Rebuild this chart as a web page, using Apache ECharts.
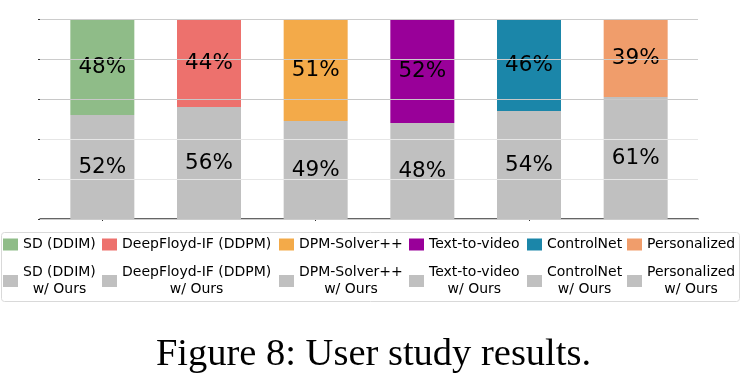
<!DOCTYPE html>
<html>
<head>
<meta charset="utf-8">
<script src="https://cdn.jsdelivr.net/npm/echarts@6/dist/echarts.min.js"></script>
<style>
  html, body { margin: 0; padding: 0; background: #fff; }
  #chart { width: 747px; height: 375px; }
</style>
</head>
<body>
<div id="chart"></div>
<script>
// data
var methods = ['SD (DDIM)', 'DeepFloyd-IF (DDPM)', 'DPM-Solver++', 'Text-to-video', 'ControlNet', 'Personalized'];
var baseValues = [48, 44, 51, 52, 46, 39];
var oursValues = [52, 56, 49, 48, 54, 61];
var baseColors = ['#8fbc88', '#ed716d', '#f3aa49', '#990099', '#1b86a9', '#f09d6b'];
var oursColor = '#c0c0c0';
var legendLeft = [3, 102, 279, 409, 527, 627];

var chart = echarts.init(document.getElementById('chart'));

function oneAt(arr, i) {
    return arr.map(function (v, j) { return j === i ? v : '-'; });
}

var barLabel = {show: true, position: 'inside', formatter: '{c}%', color: '#000',
                fontSize: 21.5, fontFamily: 'DejaVu Sans'};

var series = [];
methods.forEach(function (m, i) {
    series.push({
        name: m + '\nw/ Ours',
        type: 'bar',
        stack: 'all',
        xAxisIndex: 1,
        yAxisIndex: 1,
        barWidth: 64,
        itemStyle: {color: oursColor},
        label: barLabel,
        data: oneAt(oursValues, i)
    });
});
methods.forEach(function (m, i) {
    series.push({
        name: m,
        type: 'bar',
        stack: 'all',
        xAxisIndex: 1,
        yAxisIndex: 1,
        barWidth: 64,
        itemStyle: {color: baseColors[i]},
        label: barLabel,
        data: oneAt(baseValues, i)
    });
});

// one legend per column, like matplotlib ncol=6
var legends = methods.map(function (m, i) {
    return {
        orient: 'vertical',
        left: legendLeft[i],
        top: 237.5,
        padding: 0,
        itemWidth: 15,
        itemHeight: 12,
        itemGap: 14,
        icon: 'rect',
        data: [m, m + '\nw/ Ours'],
        formatter: function (name) {
            return name.split('\n').map(function (s) { return '{c|' + s + '}'; }).join('\n');
        },
        textStyle: {
            rich: {
                c: {align: 'center', fontSize: 14, lineHeight: 17, color: '#000', fontFamily: 'DejaVu Sans'}
            }
        }
    };
});

var option = {
    animation: false,
    title: {
        text: 'Figure 8: User study results.',
        left: 'center',
        top: 330,
        textStyle: {fontFamily: 'Liberation Serif', fontWeight: 'normal', fontSize: 38.5, color: '#000'}
    },
    legend: legends,
    grid: [
        {left: 40, right: 49, top: 19, bottom: 156},
        {left: 49, right: 58, top: 19, bottom: 156}
    ],
    xAxis: [
        {
            gridIndex: 0,
            type: 'value',
            min: 0,
            max: 1,
            axisLine: {show: true, lineStyle: {color: '#333', width: 1.5}},
            axisTick: {show: false},
            axisLabel: {show: false},
            splitLine: {show: false}
        },
        {
            gridIndex: 1,
            type: 'category',
            data: methods,
            axisLine: {show: false},
            axisTick: {show: true, alignWithLabel: true, length: 2, lineStyle: {color: '#333'}},
            axisLabel: {show: false}
        }
    ],
    yAxis: [
        {
            gridIndex: 0,
            type: 'value',
            min: 0,
            max: 100,
            interval: 20,
            z: 5,
            axisLine: {show: false},
            axisTick: {show: true, length: 2, lineStyle: {color: '#333'}},
            axisLabel: {show: false},
            splitLine: {show: true, lineStyle: {
                color: ['#cccccc', '#e6e6e6', '#e6e6e6', '#c8c8c8', '#cccccc', '#cccccc'],
                width: 1.2
            }}
        },
        {
            gridIndex: 1,
            type: 'value',
            min: 0,
            max: 100,
            show: false
        }
    ],
    graphic: [{
        type: 'rect',
        shape: {x: 1.5, y: 232.5, width: 738, height: 69, r: 3},
        style: {fill: 'none', stroke: '#d9d9d9', lineWidth: 1},
        z: -1
    }],
    series: series
};

chart.setOption(option);
</script>
</body>
</html>
